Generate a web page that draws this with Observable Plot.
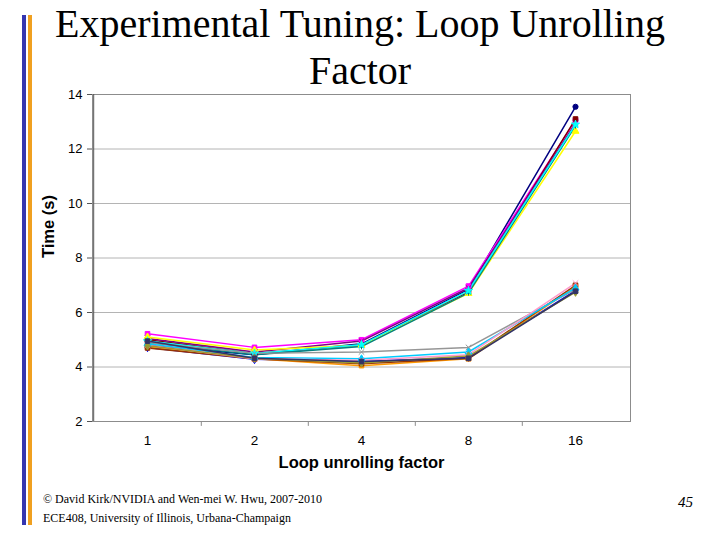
<!DOCTYPE html>
<html><head><meta charset="utf-8">
<script src="https://cdn.jsdelivr.net/npm/d3@7"></script>
<script src="https://cdn.jsdelivr.net/npm/@observablehq/plot@0.6"></script>
<style>
body{margin:0;background:#fff;}
#wrap{position:relative;width:720px;height:540px;overflow:hidden;background:#fff;}
#chart{position:absolute;left:0;top:0;}
.bar{position:absolute;top:15px;height:510px;width:4px;}
#title{position:absolute;left:20px;top:0px;width:680px;text-align:center;font-family:"Liberation Serif","Times New Roman",serif;font-size:40px;line-height:47px;color:#000;}
#foot{position:absolute;left:43px;top:490px;font-family:"Liberation Serif","Times New Roman",serif;font-size:12px;line-height:19px;color:#000;}
#page{position:absolute;left:678px;top:494px;font-family:"Liberation Serif","Times New Roman",serif;font-size:15px;font-style:italic;color:#000;}
</style></head><body>
<div id="wrap">
  <div id="chart"></div>
  <div class="bar" style="left:22px;background:#3535b0;"></div>
  <div class="bar" style="left:28px;background:#f0a020;"></div>
  <div id="title">Experimental Tuning: Loop Unrolling<br>Factor</div>
  <div id="foot">© David Kirk/NVIDIA and Wen-mei W. Hwu, 2007-2010<br>ECE408, University of Illinois, Urbana-Champaign</div>
  <div id="page">45</div>
</div>
<script>
const factors = ["1", "2", "4", "8", "16"];
const yTicks = [2, 4, 6, 8, 10, 12, 14];
const xLabel = "Loop unrolling factor";
const yLabel = "Time (s)";

const seriesNames = ["A1","A2","A3","A4","A5","A6","A7","B1","B2","B3","B4","B5","B6","B7","B8"];
const seriesColors = ["#000080","#FF00FF","#800000","#800080","#FFFF00","#008080","#00FFFF",
                      "#0000FF","#FF9900","#993300","#969696","#00CCFF","#FF99CC","#999933","#333366"];
const seriesSymbols = ["circle","square","square","times","triangle","asterisk","star",
                       "diamond","square","square","times","triangle","times","diamond","square"];

const A1 = [4.80, 4.45, 4.85, 6.85, 13.55];
const A2 = [5.22, 4.72, 5.00, 6.97, 13.05];
const A3 = [5.00, 4.50, 4.80, 6.75, 13.10];
const A4 = [5.05, 4.55, 4.95, 6.90, 12.95];
const A5 = [5.10, 4.62, 4.80, 6.70, 12.65];
const A6 = [4.90, 4.45, 4.75, 6.72, 12.85];
const A7 = [4.95, 4.50, 4.82, 6.80, 12.90];
const B1 = [4.72, 4.28, 4.20, 4.35, 6.80];
const B2 = [4.75, 4.30, 4.05, 4.30, 6.95];
const B3 = [4.70, 4.30, 4.12, 4.32, 7.00];
const B4 = [4.90, 4.50, 4.55, 4.72, 6.85];
const B5 = [4.85, 4.35, 4.30, 4.55, 6.90];
const B6 = [4.80, 4.30, 4.25, 4.45, 7.08];
const B7 = [4.78, 4.32, 4.15, 4.40, 6.75];
const B8 = [4.95, 4.32, 4.20, 4.32, 6.78];
const seriesValues = [A1,A2,A3,A4,A5,A6,A7,B1,B2,B3,B4,B5,B6,B7,B8];

const rows = [];
seriesNames.forEach((s, i) => factors.forEach((f, j) => rows.push({s, f, t: seriesValues[i][j]})));

const plot = Plot.plot({
  width: 720, height: 480,
  marginTop: 94, marginBottom: 59, marginLeft: 92, marginRight: 90,
  style: {fontFamily: "'Liberation Sans', Arial, sans-serif", fontSize: "13px", color: "#000", background: "transparent", overflow: "visible"},
  x: {type: "point", domain: factors, padding: 0.5, label: null},
  y: {domain: [2, 14], label: null},
  color: {domain: seriesNames, range: seriesColors},
  symbol: {domain: seriesNames, range: seriesSymbols},
  marks: [
    Plot.gridY(yTicks, {stroke: "#b4b4b4", strokeOpacity: 1}),
    Plot.frame({stroke: "#8c8c8c"}),
    Plot.ruleX([factors[0]], {x: d => d, dx: -53.8, stroke: "#555", y1: 2, y2: 14}),
    Plot.axisY(yTicks, {tickSize: 5, tickPadding: 5, fontSize: 13, label: null, stroke: "#555"}),
    Plot.axisX(factors, {tickSize: 0, tickPadding: 14, fontSize: 13.5, label: null}),
    Plot.ruleX(factors.slice(0, -1), {x: d => d, dx: 53.8, y1: 2, y2: 1.82, stroke: "#8c8c8c", clip: false}),
    Plot.line(rows, {x: "f", y: "t", z: "s", stroke: "s", strokeWidth: 1.5}),
    Plot.dot(rows, {x: "f", y: "t", stroke: "s", fill: "s", symbol: "s", r: 2.6, strokeWidth: 1}),
    Plot.text([xLabel], {frameAnchor: "bottom", dy: 46, fontWeight: "bold", fontSize: 16.5}),
    Plot.text([yLabel], {frameAnchor: "left", dx: -44, rotate: -90, fontWeight: "bold", fontSize: 16.5})
  ]
});
document.getElementById("chart").appendChild(plot);
</script>
</body></html>
